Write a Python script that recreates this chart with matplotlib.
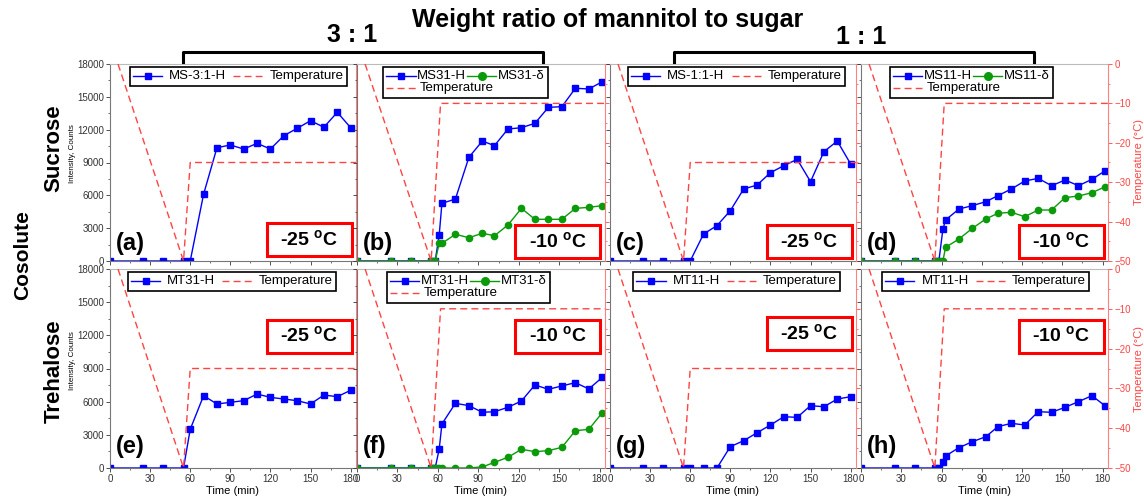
# Weight ratio of mannitol to sugar: intensity vs time, 8 panels
import matplotlib
matplotlib.use("Agg")
import matplotlib.pyplot as plt
from matplotlib.lines import Line2D
from matplotlib.patches import Rectangle
from matplotlib.ticker import MultipleLocator
from matplotlib.offsetbox import AnchoredOffsetbox, DrawingArea, TextArea, HPacker, VPacker

plt.rcParams['font.family'] = ['Liberation Sans', 'DejaVu Sans']
plt.rcParams['mathtext.fontset'] = 'custom'
plt.rcParams['mathtext.bf'] = 'Liberation Sans:bold'
plt.rcParams['mathtext.rm'] = 'Liberation Sans'

# время, мин
t_25 = [0, 25, 40, 55, 60, 70, 80, 90, 100, 110, 120, 130, 140, 150, 160, 170, 180]
t_10 = [0, 25, 40, 55, 58, 61, 63, 73, 83, 93, 102, 112, 122, 132, 142, 152, 162, 172, 182]

# интенсивности
ms31_25_h = [0, 0, 0, 0, 0, 6100, 10350, 10600, 10230, 10750, 10230, 11450, 12120, 12820, 12220, 13590, 12180]
ms31_10_h = [0, 0, 0, 0, 0, 2380, 5270, 5660, 9470, 10960, 10540, 12060, 12180, 12580, 14040, 14100, 15780, 15720, 16380]
ms31_10_d = [0, 0, 0, 0, 0, 1610, 1610, 2440, 2130, 2530, 2310, 3290, 4810, 3810, 3810, 3810, 4810, 4900, 5060]
ms11_25_h = [0, 0, 0, 0, 0, 2470, 3230, 4600, 6580, 6940, 8070, 8710, 9290, 7250, 9990, 10960, 8860]
ms11_10_h = [0, 0, 0, 0, 0, 2890, 3750, 4750, 5060, 5420, 5970, 6580, 7310, 7550, 6880, 7400, 6880, 7460, 8250]
ms11_10_d = [0, 0, 0, 0, 0, 0, 1250, 2010, 2990, 3840, 4360, 4450, 4050, 4660, 4660, 5790, 5940, 6240, 6790]
mt31_25_h = [0, 0, 0, 0, 3500, 6540, 5790, 5940, 6090, 6690, 6390, 6240, 6090, 5790, 6600, 6450, 7030]
mt31_10_h = [0, 0, 0, 0, 0, 1720, 3980, 5850, 5640, 5040, 5090, 5490, 6060, 7510, 7120, 7420, 7720, 7150, 8200]
mt31_10_d = [0, 0, 0, 0, 0, 0, 0, 0, 0, 100, 510, 970, 1690, 1480, 1570, 1870, 3370, 3500, 5000]
mt11_25_h = [0, 0, 0, 0, 0, 0, 0, 1930, 2470, 3190, 3890, 4640, 4580, 5640, 5540, 6240, 6450]
mt11_10_h = [0, 0, 0, 0, 0, 570, 1090, 1840, 2380, 2830, 3740, 4040, 3890, 5090, 5040, 5490, 6000, 6540, 5610]

# температура
temp_t_25 = [6, 55, 60, 185]
temp_25 = [0, -50, -25, -25]
temp_t_10 = [6, 55, 62, 185]
temp_10 = [0, -50, -10, -10]

W, H = 1144, 500
fig = plt.figure(figsize=(W / 100, H / 100), dpi=100)

cols = [(110, 246), (357, 248), (610, 246), (861, 247)]
rows = [(64, 261), (269, 468)]

# (row, col, letter, t, h, delta, h label, delta label, temp kind, legend left, box y)
panels = [
    (0, 0, 'a', t_25, ms31_25_h, None, 'MS-3:1-H', None, 25, 0.08, 0.107),
    (0, 1, 'b', t_10, ms31_10_h, ms31_10_d, 'MS31-H', 'MS31-δ', 10, 0.105, 0.10),
    (0, 2, 'c', t_25, ms11_25_h, None, 'MS-1:1-H', None, 25, 0.073, 0.10),
    (0, 3, 'd', t_10, ms11_10_h, ms11_10_d, 'MS11-H', 'MS11-δ', 10, 0.117, 0.10),
    (1, 0, 'e', t_25, mt31_25_h, None, 'MT31-H', None, 25, 0.073, 0.663),
    (1, 1, 'f', t_10, mt31_10_h, mt31_10_d, 'MT31-H', 'MT31-δ', 10, 0.12, 0.663),
    (1, 2, 'g', t_25, mt11_25_h, None, 'MT11-H', None, 25, 0.094, 0.676),
    (1, 3, 'h', t_10, mt11_10_h, None, 'MT11-H', None, 10, 0.085, 0.663),
]

red = '#ff4444'
blue = '#0000ff'
green = '#0a9a0a'
dash = (0, (5, 3))


def handle_box(color, ls, marker=None, ms=4):
    da = DrawingArea(21, 8, 0, 0)
    da.add_artist(Line2D([0, 21], [4, 4], color=color, linestyle=ls, linewidth=1))
    if marker:
        da.add_artist(Line2D([10.5], [4], color=color, marker=marker, markersize=ms, linestyle='none'))
    return da


def label_box(s):
    return TextArea(s, textprops=dict(fontsize=9.5))


for r, c, letter, t, h, d, lab_h, lab_d, tk, leg_x, box_y in panels:
    x0, w = cols[c]
    top, bot = rows[r]
    ax = fig.add_axes([x0 / W, 1 - bot / H, w / W, (bot - top) / H])
    ax.set_xlim(0, 184)
    ax.set_ylim(0, 18000)
    ax.xaxis.set_major_locator(MultipleLocator(30))
    ax.xaxis.set_minor_locator(MultipleLocator(15))
    ax.yaxis.set_major_locator(MultipleLocator(3000))
    ax.yaxis.set_minor_locator(MultipleLocator(1500))
    ax.tick_params(axis='both', which='major', direction='out', length=3, width=0.6,
                   labelsize=7, colors='#333333', pad=1.5)
    ax.tick_params(axis='both', which='minor', direction='out', length=1.5, width=0.5, colors='#333333')
    if c != 0:
        ax.tick_params(axis='y', labelleft=False)
    if r == 0:
        ax.tick_params(axis='x', labelbottom=False)
    else:
        ax.set_xlabel('Time (min)', fontsize=8, labelpad=1)
    for s in ['left', 'bottom']:
        ax.spines[s].set_color('#777777')
        ax.spines[s].set_linewidth(0.8)
    ax.spines['top'].set_color('#bbbbbb')
    ax.spines['right'].set_visible(False)

    ax.plot(t, h, color=blue, marker='s', markersize=4, linewidth=1)
    if d is not None:
        ax.plot(t, d, color=green, marker='o', markersize=4.5, linewidth=1)

    ax2 = ax.twinx()
    ax2.set_ylim(-50, 0)
    ax2.yaxis.set_major_locator(MultipleLocator(10))
    ax2.yaxis.set_minor_locator(MultipleLocator(5))
    ax2.tick_params(axis='y', which='major', direction='out', length=3, width=0.6,
                    labelsize=7, colors=red, pad=1.5)
    ax2.tick_params(axis='y', which='minor', direction='out', length=1.5, width=0.5, colors=red)
    for s in ['left', 'top', 'bottom']:
        ax2.spines[s].set_visible(False)
    ax2.spines['right'].set_color('#ff8080')
    ax2.spines['right'].set_linewidth(0.8)
    if c != 3:
        ax2.tick_params(axis='y', labelright=False)
    else:
        ax2.set_ylabel('Temperature (°C)', color=red, fontsize=8, labelpad=2)

    if tk == 25:
        ax2.plot(temp_t_25, temp_25, color=red, linestyle=dash, linewidth=1)
    else:
        ax2.plot(temp_t_10, temp_10, color=red, linestyle=dash, linewidth=1)

    # легенда
    hb = handle_box(blue, '-', 's', 5)
    tb = handle_box(red, dash)
    if d is not None:
        db = handle_box(green, '-', 'o', 5.5)
        row1 = HPacker(children=[hb, label_box(lab_h), db, label_box(lab_d)], align='center', pad=0, sep=1)
        row2 = HPacker(children=[tb, label_box('Temperature')], align='center', pad=0, sep=3)
        box = VPacker(children=[row1, row2], align='left', pad=0, sep=0)
    else:
        box = HPacker(children=[hb, label_box(lab_h), tb, label_box('Temperature')],
                      align='center', pad=0, sep=5)
    ab = AnchoredOffsetbox(loc='upper left', child=box, pad=0.25, borderpad=0,
                           bbox_to_anchor=(leg_x, 0.985), bbox_transform=ax2.transAxes,
                           frameon=True, prop=dict(size=9.5))
    ab.patch.set_edgecolor('black')
    ab.patch.set_linewidth(1.2)
    ab.patch.set_facecolor('white')
    ab.set_zorder(20)
    ax2.add_artist(ab)

    # рамка с температурой
    bw, bh = 85 / w, 33 / (bot - top)
    ax2.add_patch(Rectangle((0.81 - bw / 2, box_y - bh / 2), bw, bh, transform=ax2.transAxes,
                            facecolor='white', edgecolor='#ff0000', linewidth=2.2, zorder=10))
    ax2.text(0.81, box_y, r'-%d $^\mathbf{o}$C' % tk, transform=ax2.transAxes, ha='center',
             va='center', fontsize=14, fontweight='bold', zorder=11)

    # буква панели
    ax2.text(0.025, 0.03 if r == 0 else 0.05, '(%s)' % letter, transform=ax2.transAxes,
             ha='left', va='bottom', fontsize=17, fontweight='bold', zorder=12)

# подписи слева
fig.text(72 / W, 1 - 154 / H, 'Intensity, Counts', rotation=90, fontsize=5.8, ha='center', va='center')
fig.text(72 / W, 1 - 361 / H, 'Intensity, Counts', rotation=90, fontsize=5.8, ha='center', va='center')
fig.text(54 / W, 1 - 148 / H, 'Sucrose', rotation=90, fontsize=16, fontweight='bold', ha='center', va='center')
fig.text(54 / W, 1 - 371 / H, 'Trehalose', rotation=90, fontsize=16, fontweight='bold', ha='center', va='center')
fig.text(23 / W, 1 - 255 / H, 'Cosolute', rotation=90, fontsize=15, fontweight='bold', ha='center', va='center')

# заголовки
fig.text(608 / W, 1 - 20 / H, 'Weight ratio of mannitol to sugar', fontsize=18, fontweight='bold',
         ha='center', va='center')
fig.text(352 / W, 1 - 35 / H, '3 : 1', fontsize=18, fontweight='bold', ha='center', va='center')
fig.text(861 / W, 1 - 37 / H, '1 : 1', fontsize=18, fontweight='bold', ha='center', va='center')

# скобки
for xa, xb in [(183, 543), (674, 1034)]:
    xs = [xa / W, xa / W, xb / W, xb / W]
    ys = [1 - 62 / H, 1 - 52 / H, 1 - 52 / H, 1 - 62 / H]
    fig.add_artist(Line2D(xs, ys, color='black', linewidth=2.2, transform=fig.transFigure))

fig.savefig('out.png', dpi=100)
